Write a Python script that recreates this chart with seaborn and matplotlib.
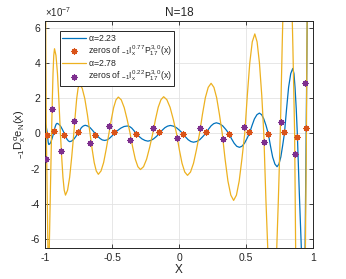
import numpy as np
import pandas as pd
import seaborn as sns
import matplotlib
matplotlib.use("Agg")
import matplotlib.pyplot as plt

# values in units of 1e-7
blue_x = [-1.0, -0.991, -0.982, -0.979, -0.977, -0.974, -0.971, -0.962, -0.954, -0.945, -0.936,
          -0.930, -0.923, -0.917, -0.91, -0.897, -0.883, -0.870, -0.856,
          -0.846, -0.836, -0.825, -0.815, -0.80, -0.785, -0.77, -0.755,
          -0.741, -0.728, -0.714, -0.70, -0.682, -0.664, -0.645, -0.627,
          -0.609, -0.591, -0.573, -0.555, -0.537, -0.519, -0.501, -0.483,
          -0.459, -0.434, -0.41, -0.385, -0.369, -0.353, -0.337, -0.321,
          -0.299, -0.277, -0.254, -0.232, -0.211, -0.19, -0.168, -0.147,
          -0.127, -0.106, -0.086, -0.065, -0.042, -0.019, 0.004, 0.027,
          0.047, 0.068, 0.088, 0.108, 0.131, 0.154, 0.176, 0.199,
          0.219, 0.239, 0.258, 0.278, 0.301, 0.325, 0.348, 0.371,
          0.391, 0.411, 0.43, 0.45, 0.469, 0.488, 0.506, 0.525,
          0.544, 0.562, 0.581, 0.599, 0.616, 0.632, 0.649, 0.665,
          0.682, 0.698, 0.715, 0.731, 0.745, 0.759, 0.772, 0.786,
          0.802, 0.817, 0.833, 0.848, 0.857, 0.865, 0.874, 0.882,
          0.897, 0.912, 0.92, 0.928, 0.935, 0.94, 0.948, 0.956, 0.97, 1.0]
blue_y = [0.61, 0.4, 0.0, -0.24, -0.45, -0.58, -0.63, -0.58, -0.45, -0.24, 0.0,
          0.22, 0.40, 0.52, 0.57, 0.52, 0.40, 0.22, 0.0,
          -0.18, -0.33, -0.43, -0.47, -0.43, -0.33, -0.18, 0.0,
          0.17, 0.33, 0.42, 0.46, 0.42, 0.33, 0.17, 0.0,
          -0.15, -0.28, -0.37, -0.40, -0.37, -0.28, -0.15, 0.0,
          0.16, 0.30, 0.39, 0.42, 0.39, 0.30, 0.16, 0.0,
          -0.17, -0.31, -0.40, -0.44, -0.40, -0.31, -0.17, 0.0,
          0.17, 0.32, 0.41, 0.45, 0.41, 0.32, 0.17, 0.0,
          -0.19, -0.36, -0.46, -0.50, -0.46, -0.36, -0.19, 0.0,
          0.23, 0.43, 0.55, 0.60, 0.55, 0.43, 0.23, 0.0,
          -0.30, -0.56, -0.73, -0.79, -0.73, -0.56, -0.30, 0.0,
          0.44, 0.82, 1.06, 1.15, 1.06, 0.82, 0.44, 0.0,
          -0.72, -1.34, -1.74, -1.89, -1.74, -1.34, -0.72, 0.0,
          1.40, 2.61, 3.39, 3.68, 3.39, 2.61, 1.40, 0.0,
          -3.4, -6.5, -8.5, -9.2, -8.0, -6.5, 0.0, 6.4, 20.0, 80.0]

yel_x = [-1.0, -0.997, -0.994, -0.99, -0.984, -0.978, -0.975, -0.973, -0.97, -0.968, -0.96, -0.951,
         -0.9455, -0.94, -0.9345, -0.929, -0.918, -0.907, -0.896, -0.885,
         -0.8755, -0.866, -0.8565, -0.847, -0.8315, -0.816, -0.8005, -0.785,
         -0.774, -0.7635, -0.753, -0.742, -0.7225, -0.703, -0.6835, -0.664,
         -0.6485, -0.633, -0.6175, -0.602, -0.582, -0.5625, -0.543, -0.523,
         -0.5055, -0.488, -0.4705, -0.453, -0.431, -0.409, -0.387, -0.365,
         -0.346, -0.3265, -0.307, -0.288, -0.265, -0.242, -0.219, -0.196,
         -0.176, -0.1555, -0.135, -0.115, -0.091, -0.067, -0.043, -0.019,
         0.0015, 0.022, 0.0425, 0.063, 0.0855, 0.108, 0.1305, 0.153,
         0.1745, 0.196, 0.2175, 0.239, 0.26, 0.2805, 0.301, 0.322,
         0.343, 0.3645, 0.386, 0.407, 0.428, 0.4485, 0.469, 0.49,
         0.509, 0.5275, 0.546, 0.565, 0.582, 0.5995, 0.617, 0.632,
         0.648, 0.6645, 0.681, 0.697, 0.7115, 0.726, 0.7405, 0.755,
         0.769, 0.7825, 0.796, 0.81, 0.823, 0.836, 0.849, 0.862,
         0.873, 0.8835, 0.894, 0.905, 0.916, 0.9275, 0.939, 0.95,
         0.958, 0.97, 1.0]
yel_y = [45.0, 15.0, 5.0, 0.0, -3.2, -6.5, -8.3, -9.0, -8.2, -6.5, -3.4, 0.0,
         1.82, 3.41, 4.42, 4.8, 4.42, 3.41, 1.82, 0.0,
         -1.33, -2.49, -3.22, -3.5, -3.22, -2.49, -1.33, 0.0,
         1.06, 1.97, 2.56, 2.78, 2.56, 1.97, 1.06, 0.0,
         -0.88, -1.65, -2.13, -2.32, -2.13, -1.65, -0.88, 0.0,
         0.78, 1.46, 1.90, 2.06, 1.90, 1.46, 0.78, 0.0,
         -0.78, -1.46, -1.89, -2.05, -1.89, -1.46, -0.78, 0.0,
         0.79, 1.48, 1.91, 2.08, 1.91, 1.48, 0.79, 0.0,
         -0.90, -1.69, -2.19, -2.38, -2.19, -1.69, -0.90, 0.0,
         1.08, 2.02, 2.61, 2.84, 2.61, 2.02, 1.08, 0.0,
         -1.44, -2.70, -3.50, -3.8, -3.50, -2.70, -1.44, 0.0,
         2.14, 4.0, 5.19, 5.64, 5.19, 4.0, 2.14, 0.0,
         -3.8, -7.1, -9.2, -10.0, -9.2, -7.1, -3.8, 0.0,
         4.9, 9.2, 12.0, 13.0, 12.0, 9.2, 4.9, 0.0,
         -9.5, -17.8, -23.0, -25.0, -23.0, -17.8, -9.5, 0.0,
         10.0, 40.0, 200.0]

orange_x = [-0.982, -0.936, -0.856, -0.755, -0.627, -0.483, -0.321, -0.147,
            0.027, 0.199, 0.371, 0.525, 0.665, 0.786, 0.882, 0.948]
orange_y = [-0.08, 0.14, -0.1, 0.1, -0.1, 0.07, -0.05, 0.07,
            -0.05, 0.07, -0.05, 0.07, -0.05, 0.08, -0.18, 0.33]
purple_x = [-0.992, -0.949, -0.881, -0.781, -0.662, -0.522, -0.363, -0.194,
            -0.017, 0.155, 0.326, 0.487, 0.633, 0.761, 0.862, 0.94]
purple_y = [-1.48, 1.37, -0.99, 0.71, -0.56, 0.41, -0.37, 0.3,
            -0.27, 0.3, -0.33, 0.37, -0.46, 0.67, -1.15, 2.83]

scale = 1e-7
c_blue, c_yel, c_orange, c_purple = "#0072BD", "#EDB120", "#D95319", "#7E2F8E"

sns.set_style("ticks", {"axes.edgecolor": "#262626", "grid.color": "#e3e3e3",
                        "xtick.direction": "in", "ytick.direction": "in",
                        "xtick.top": True, "ytick.right": True})
plt.rcParams["font.family"] = ["Liberation Sans", "DejaVu Sans"]
plt.rcParams["mathtext.fontset"] = "custom"
plt.rcParams["mathtext.rm"] = "Liberation Sans"
plt.rcParams["mathtext.it"] = "Liberation Sans"

fig = plt.figure(figsize=(3.46, 2.79), dpi=100)
ax = fig.add_axes([0.130, 0.111, 0.775, 0.8155])

blue = pd.DataFrame({"x": blue_x, "y": np.array(blue_y) * scale})
yel = pd.DataFrame({"x": yel_x, "y": np.array(yel_y) * scale})

sns.lineplot(data=blue, x="x", y="y", sort=False, estimator=None, color=c_blue,
             linewidth=0.9, ax=ax, label=r"$\alpha$=2.23")
sns.scatterplot(x=orange_x, y=np.array(orange_y) * scale, marker=(8, 2, 0), s=15,
                color=c_orange, edgecolor=c_orange, linewidth=0.9, ax=ax, zorder=4,
                label=r"zeros of $_{-1}I_x^{0.77}P_{17}^{3,0}(x)$")
sns.lineplot(data=yel, x="x", y="y", sort=False, estimator=None, color=c_yel,
             linewidth=0.9, ax=ax, label=r"$\alpha$=2.78")
sns.scatterplot(x=purple_x, y=np.array(purple_y) * scale, marker=(8, 2, 0), s=15,
                color=c_purple, edgecolor=c_purple, linewidth=0.9, ax=ax, zorder=4,
                label=r"zeros of $_{-1}I_x^{0.22}P_{17}^{3,0}(x)$")

ax.set_xlim(-1, 1)
ax.set_ylim(-6.5e-7, 6.4e-7)
ax.set_xticks([-1, -0.5, 0, 0.5, 1])
ax.set_xticklabels(["-1", "-0.5", "0", "0.5", "1"])
ax.set_yticks(np.arange(-6, 7, 2) * scale)
ax.set_yticklabels(["-6", "-4", "-2", "0", "2", "4", "6"])
ax.grid(True, linewidth=0.6)
ax.tick_params(labelsize=7.5, length=3, width=0.6, colors="#262626")
for s in ax.spines.values():
    s.set_linewidth(0.7)

ax.text(0.0, 1.005, r"$\times10^{-7}$", transform=ax.transAxes, fontsize=7,
        color="#262626", ha="left", va="bottom")
ax.set_title("N=18", fontsize=8.5, color="#262626", pad=3)
ax.set_xlabel("X", fontsize=8.5, color="#262626", labelpad=1)
ax.set_ylabel(r"$_{-1}D_x^{\alpha}e_N(x)$", fontsize=8, color="#262626", labelpad=2)

leg = ax.legend(loc="upper left", bbox_to_anchor=(0.056, 0.954), borderaxespad=0,
                fontsize=6.3, frameon=True, fancybox=False, handlelength=2.7,
                handletextpad=0.25, labelspacing=0.02, borderpad=0.25)
leg.get_frame().set_edgecolor("#262626")
leg.get_frame().set_linewidth(0.7)
leg.get_frame().set_alpha(1)

fig.savefig("out.png", dpi=100)
